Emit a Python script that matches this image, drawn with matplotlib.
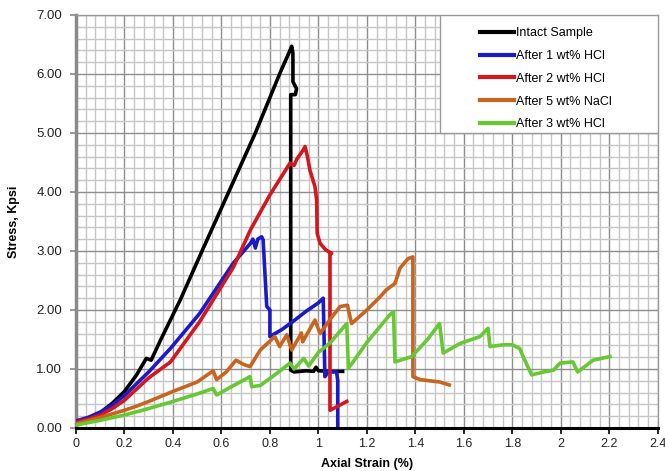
import matplotlib.pyplot as plt
from matplotlib.patches import Rectangle
from matplotlib.ticker import MultipleLocator, FuncFormatter

plt.rcParams["font.family"] = ["Liberation Sans", "DejaVu Sans"]

# --- Stress-strain curves (strain %, stress kpsi) ---
intact_x = [0, 0.05, 0.1, 0.15, 0.2, 0.25, 0.29, 0.31, 0.35, 0.43, 0.52, 0.63,
            0.74, 0.84, 0.885, 0.89, 0.895, 0.895, 0.91, 0.905, 0.886, 0.886,
            0.9, 0.95, 0.98, 0.99, 1.0, 1.05, 1.1]
intact_y = [0.1, 0.16, 0.26, 0.42, 0.62, 0.9, 1.18, 1.15, 1.5, 2.17, 3.0, 4.0,
            5.0, 6.0, 6.42, 6.47, 6.35, 5.87, 5.75, 5.65, 5.65, 0.98,
            0.95, 0.97, 0.96, 1.03, 0.97, 0.96, 0.96]

hcl1_x = [0, 0.05, 0.1, 0.15, 0.2, 0.3, 0.39, 0.51, 0.65, 0.72, 0.73, 0.74,
          0.75, 0.766, 0.772, 0.787, 0.80, 0.80, 0.85, 0.9, 0.95, 1.0, 1.02,
          1.027, 1.04, 1.075, 1.08, 1.08]
hcl1_y = [0.12, 0.18, 0.27, 0.39, 0.55, 0.95, 1.35, 1.94, 2.8, 3.13, 3.2, 3.05,
          3.2, 3.24, 3.19, 2.06, 2.0, 1.55, 1.67, 1.82, 1.98, 2.12, 2.2,
          0.87, 0.95, 0.95, 0.8, 0.0]

hcl2_x = [0, 0.05, 0.1, 0.15, 0.2, 0.3, 0.39, 0.51, 0.65, 0.72, 0.8, 0.883,
          0.9, 0.91, 0.937, 0.945, 0.955, 0.965, 0.986, 0.993, 0.995, 1.007,
          1.03, 1.055, 1.048, 1.048, 1.117]
hcl2_y = [0.1, 0.15, 0.22, 0.33, 0.47, 0.85, 1.12, 1.8, 2.73, 3.36, 3.95, 4.49,
          4.45, 4.55, 4.71, 4.77, 4.6, 4.37, 4.09, 3.86, 3.3, 3.13,
          3.02, 2.96, 2.96, 0.3, 0.45]

nacl5_x = [0, 0.1, 0.2, 0.25, 0.3, 0.4, 0.5, 0.566, 0.58, 0.62, 0.66, 0.69,
           0.718, 0.76, 0.82, 0.84, 0.87, 0.89, 0.93, 0.935, 0.986, 1.007,
           1.05, 1.09, 1.12, 1.137, 1.2, 1.254, 1.28, 1.316, 1.337, 1.37,
           1.39, 1.39, 1.42, 1.5, 1.54]
nacl5_y = [0.07, 0.18, 0.3, 0.37, 0.45, 0.62, 0.78, 0.97, 0.82, 0.95, 1.15, 1.08,
           1.04, 1.32, 1.55, 1.38, 1.58, 1.32, 1.61, 1.46, 1.83, 1.6,
           1.85, 2.06, 2.08, 1.77, 2.0, 2.22, 2.34, 2.45, 2.71, 2.87,
           2.9, 0.87, 0.82, 0.78, 0.73]

hcl3_x = [0, 0.1, 0.2, 0.3, 0.4, 0.51, 0.566, 0.58, 0.65, 0.718, 0.725, 0.76,
          0.82, 0.883, 0.9, 0.94, 0.96, 1.0, 1.05, 1.117, 1.124, 1.2, 1.295,
          1.31, 1.316, 1.385, 1.45, 1.50, 1.515, 1.584, 1.625, 1.667, 1.70,
          1.708, 1.763, 1.80, 1.83, 1.845, 1.88, 1.93, 1.97, 1.997, 2.05,
          2.07, 2.134, 2.203]
hcl3_y = [0.05, 0.13, 0.22, 0.33, 0.45, 0.59, 0.67, 0.56, 0.72, 0.87, 0.7, 0.72,
          0.9, 1.1, 1.0, 1.18, 1.05, 1.28, 1.45, 1.77, 1.01, 1.45, 1.92,
          1.97, 1.12, 1.21, 1.5, 1.77, 1.27, 1.43, 1.49, 1.55, 1.69,
          1.38, 1.41, 1.41, 1.35, 1.21, 0.9, 0.95, 0.98, 1.10, 1.12,
          0.95, 1.15, 1.21]

series = [
    ("Intact Sample", intact_x, intact_y, "#000000"),
    ("After 1 wt% HCl", hcl1_x, hcl1_y, "#1a1ac8"),
    ("After 2 wt% HCl", hcl2_x, hcl2_y, "#d4161e"),
    ("After 5 wt% NaCl", nacl5_x, nacl5_y, "#c8641e"),
    ("After 3 wt% HCl", hcl3_x, hcl3_y, "#66c832"),
]

fig = plt.figure(figsize=(6.65, 4.71), dpi=100)
ax = fig.add_axes([0.1143, 0.0913, 0.8747, 0.8769])

for label, x, y, c in series:
    ax.plot(x, y, color=c, lw=2.6, label=label, solid_joinstyle="round", zorder=3)

ax.set_xlim(0, 2.4)
ax.set_ylim(0, 7)
ax.xaxis.set_major_locator(MultipleLocator(0.2))
ax.xaxis.set_minor_locator(MultipleLocator(0.04))
ax.yaxis.set_major_locator(MultipleLocator(1))
ax.yaxis.set_minor_locator(MultipleLocator(0.2))
ax.xaxis.set_major_formatter(FuncFormatter(lambda v, p: f"{v:g}"))
ax.yaxis.set_major_formatter(FuncFormatter(lambda v, p: f"{v:.2f}"))

ax.grid(which="minor", color="#c6c6c6", lw=1.0, zorder=0)
ax.grid(which="major", color="#8e8e8e", lw=1.0, zorder=0)
ax.set_axisbelow(True)

ax.tick_params(which="minor", length=0)
ax.tick_params(axis="x", which="major", length=4, width=1.2, color="black",
               labelsize=9, labelcolor="#222222", pad=3)
ax.tick_params(axis="y", which="major", length=4, width=1.2, color="#888888",
               labelsize=9.5, labelcolor="#222222", pad=6)

for side in ("top", "right"):
    ax.spines[side].set_color("#9a9a9a")
    ax.spines[side].set_linewidth(1.0)
ax.spines["left"].set_color("#8a8a8a")
ax.spines["left"].set_linewidth(2.5)
ax.spines["bottom"].set_color("black")
ax.spines["bottom"].set_linewidth(2.2)
ax.spines["bottom"].set_zorder(4)

ax.set_xlabel("Axial Strain (%)", fontsize=9, fontweight="bold", labelpad=6)
ax.set_ylabel("Stress, Kpsi", fontsize=9, fontweight="bold", labelpad=12)

# legend box in the upper right corner
ax.add_patch(Rectangle((0.626, 0.714), 0.374, 0.286, transform=ax.transAxes,
                       facecolor="white", edgecolor="#9a9a9a", lw=1.0, zorder=5))
leg = ax.legend(loc="upper left", bbox_to_anchor=(0.695, 0.97), frameon=False,
                fontsize=9, handlelength=2.7, handletextpad=0.15,
                labelspacing=0.86, borderpad=0, borderaxespad=0)
leg.set_zorder(6)
for h in leg.get_lines():
    h.set_linewidth(3.0)

fig.savefig("out.png", dpi=100)
